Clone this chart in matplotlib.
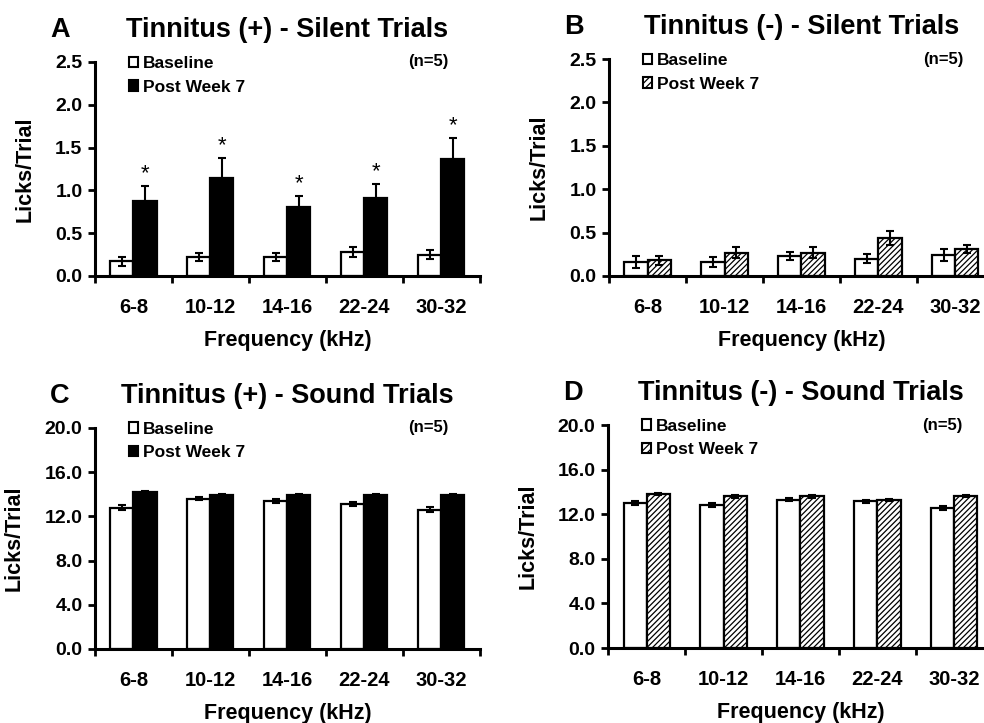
import matplotlib
matplotlib.use("Agg")
import matplotlib.pyplot as plt
import numpy as np
from matplotlib.patches import Patch
from matplotlib.ticker import FormatStrFormatter, FixedLocator

plt.rcParams["font.family"] = ["Liberation Sans", "DejaVu Sans"]
plt.rcParams["font.weight"] = "bold"
plt.rcParams["axes.labelweight"] = "bold"
plt.rcParams["hatch.linewidth"] = 0.9

freqs = ["6-8", "10-12", "14-16", "22-24", "30-32"]

# A: Tinnitus (+) silent
a_base = [0.17, 0.22, 0.22, 0.28, 0.25]
a_base_err = [0.05, 0.05, 0.05, 0.06, 0.05]
a_post = [0.88, 1.15, 0.80, 0.91, 1.37]
a_post_err = [0.17, 0.23, 0.14, 0.17, 0.24]

# B: Tinnitus (-) silent
b_base = [0.16, 0.16, 0.23, 0.20, 0.24]
b_base_err = [0.07, 0.06, 0.05, 0.05, 0.07]
b_post = [0.18, 0.27, 0.27, 0.44, 0.31]
b_post_err = [0.05, 0.06, 0.06, 0.08, 0.05]

# C: Tinnitus (+) sound
c_base = [12.8, 13.6, 13.4, 13.1, 12.6]
c_base_err = [0.2, 0.15, 0.2, 0.2, 0.25]
c_post = [14.2, 13.95, 13.9, 13.9, 13.95]
c_post_err = [0.1, 0.1, 0.1, 0.1, 0.1]

# D: Tinnitus (-) sound
d_base = [13.0, 12.85, 13.3, 13.15, 12.55]
d_base_err = [0.2, 0.2, 0.15, 0.15, 0.2]
d_post = [13.8, 13.6, 13.6, 13.25, 13.65]
d_post_err = [0.1, 0.15, 0.1, 0.1, 0.1]

panels = [
    ("A", "Tinnitus (+) - Silent Trials", a_base, a_base_err, a_post, a_post_err,
     2.5, [0, 0.5, 1.0, 1.5, 2.0, 2.5], True, [0.0965, 0.6183, 0.391, 0.296]),
    ("B", "Tinnitus (-) - Silent Trials", b_base, b_base_err, b_post, b_post_err,
     2.5, [0, 0.5, 1.0, 1.5, 2.0, 2.5], False, [0.619, 0.6183, 0.391, 0.300]),
    ("C", "Tinnitus (+) - Sound Trials", c_base, c_base_err, c_post, c_post_err,
     20, [0, 4, 8, 12, 16, 20], True, [0.0965, 0.1024, 0.391, 0.3057]),
    ("D", "Tinnitus (-) - Sound Trials", d_base, d_base_err, d_post, d_post_err,
     20, [0, 4, 8, 12, 16, 20], False, [0.618, 0.1037, 0.391, 0.3084]),
]

fig = plt.figure(figsize=(9.84, 7.23), dpi=100)
x = np.arange(len(freqs))
w = 0.3

for letter, title, base, base_err, post, post_err, ymax, yticks, solid, pos in panels:
    ax = fig.add_axes(pos)
    ax.bar(x - w / 2, base, w, color="white", edgecolor="black", linewidth=1.6)
    ax.errorbar(x - w / 2, base, yerr=base_err, fmt="none", ecolor="black",
                elinewidth=1.5, capsize=3, capthick=1.5)
    if solid:
        ax.bar(x + w / 2, post, w, color="black", edgecolor="black", linewidth=1.6)
    else:
        ax.bar(x + w / 2, post, w, color="white", edgecolor="black",
               hatch="//////", linewidth=1.6)
    ax.errorbar(x + w / 2, post, yerr=post_err, fmt="none", ecolor="black",
                elinewidth=1.5, capsize=3, capthick=1.5)

    if letter == "A":
        for xi, v, e in zip(x, post, post_err):
            ax.text(xi + w / 2, v + e + 0.02, "*", ha="center", va="bottom",
                    fontsize=16, fontweight="normal")

    ax.set_xlim(-0.5, 4.5)
    ax.set_ylim(0, ymax)
    ax.set_yticks(yticks)
    ax.yaxis.set_major_formatter(FormatStrFormatter("%.1f"))
    ax.set_xticks(x)
    ax.set_xticklabels(freqs)
    ax.xaxis.set_minor_locator(FixedLocator(np.arange(-0.5, 5, 1.0)))
    ax.tick_params(axis="x", which="major", length=0, pad=16, labelsize=14.5)
    ax.tick_params(axis="x", which="minor", length=5, width=2, direction="out")
    ax.tick_params(axis="y", length=5, width=2, direction="out", labelsize=14, pad=4)
    for s in ["top", "right"]:
        ax.spines[s].set_visible(False)
    for s in ["left", "bottom"]:
        ax.spines[s].set_linewidth(2.2)

    ax.set_ylabel("Licks/Trial", fontsize=15.5, labelpad=14)
    ax.set_xlabel("Frequency (kHz)", fontsize=15.5, labelpad=9)
    ax.set_title(title, fontsize=19.5, fontweight="bold", pad=18)
    ax.annotate(letter, xy=(-0.091, 1.0), xycoords="axes fraction",
                xytext=(0, 18), textcoords="offset points", fontsize=19.5,
                fontweight="bold", ha="center", va="baseline")

    post_patch = Patch(facecolor="black" if solid else "white", edgecolor="black",
                       hatch=None if solid else "/////", linewidth=1.5)
    base_patch = Patch(facecolor="white", edgecolor="black", linewidth=1.5)
    ax.legend([base_patch, post_patch], ["Baseline", "Post Week 7"],
              loc="upper left", bbox_to_anchor=(0.065, 1.068), frameon=False,
              borderpad=0, handlelength=0.55, handleheight=0.55,
              handletextpad=0.25, labelspacing=0.5, fontsize=12.5)
    ax.text(0.92, 1.0, "(n=5)", transform=ax.transAxes, ha="right", va="center",
            fontsize=12)

fig.savefig("out.png", dpi=100, facecolor="white")
